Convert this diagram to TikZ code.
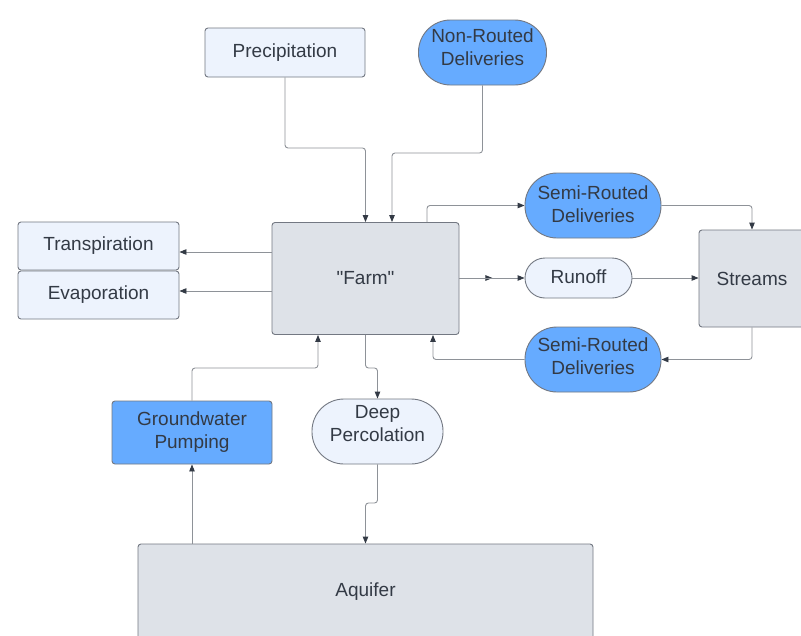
\documentclass[tikz,border=0pt]{standalone}
\usepackage{fontspec}
\setmainfont{Liberation Sans}[Ligatures=TeXOff]
\usetikzlibrary{arrows.meta}
\definecolor{lightf}{HTML}{EDF3FD}
\definecolor{grayf}{HTML}{DEE2E8}
\definecolor{bluef}{HTML}{66ABFF}
\definecolor{bord}{HTML}{737882}
\definecolor{linec}{HTML}{8E9298}
\definecolor{txt}{HTML}{333A45}
\tikzset{
  box/.style={draw=bord, line width=0.9pt, rounded corners=3pt, inner sep=0pt,
    text=txt, align=center, font=\fontsize{19}{23}\selectfont},
  lightbox/.style={box, fill=lightf},
  graybox/.style={box, fill=grayf},
  bluebox/.style={box, fill=bluef},
  txtlbl/.style={text=txt, align=center, font=\fontsize{19}{23}\selectfont, inner sep=0pt},
  conn/.style={draw=linec, line width=0.9pt, rounded corners=3pt,
    -{Triangle[length=7pt,width=5.5pt,fill=txt,color=txt]}},
}
\begin{document}
\begin{tikzpicture}[x=1pt,y=-1pt]
\useasboundingbox (0,0) rectangle (801,635);
\fill[white] (0,0) rectangle (801,635);
% nodes
\node[lightbox, minimum width=160pt, minimum height=49pt] (prec) at (285,52.5) {Precipitation};
\node[bluebox, rounded corners=32pt, minimum width=128pt, minimum height=65pt,
  label={[txtlbl, yshift=5pt]center:Non-Routed\\Deliveries}] (nr) at (482.5,52.5) {};
\node[graybox, minimum width=187pt, minimum height=112pt] (farm) at (365.5,278.5) {"Farm"};
\node[lightbox, minimum width=161pt, minimum height=48pt] (tr) at (98.5,246) {Transpiration};
\node[lightbox, minimum width=161pt, minimum height=48pt] (ev) at (98.5,295) {Evaporation};
\node[bluebox, rounded corners=32pt, minimum width=136pt, minimum height=65pt,
  label={[txtlbl, yshift=1.5pt]center:Semi-Routed\\Deliveries}] (st) at (593,205.5) {};
\node[lightbox, rounded corners=20pt, minimum width=107pt, minimum height=40pt,
  label={[txtlbl, yshift=1.5pt]center:Runoff}] (ro) at (578.5,278) {};
\node[graybox, minimum width=106pt, minimum height=97pt] (streams) at (752,278.5) {Streams};
\node[bluebox, rounded corners=32pt, minimum width=136pt, minimum height=65pt,
  label={[txtlbl, yshift=3.5pt]center:Semi-Routed\\Deliveries}] (sb) at (593,359.5) {};
\node[bluebox, minimum width=160pt, minimum height=63pt] (gw) at (192,432.5) {Groundwater\\Pumping};
\node[lightbox, rounded corners=32pt, minimum width=131pt, minimum height=65pt,
  label={[txtlbl, yshift=8pt]center:Deep\\Percolation}] (deep) at (377.5,431.5) {};
\node[graybox, minimum width=455pt, minimum height=96pt] (aq) at (365.5,592) {Aquifer};
% connectors
\draw[conn] (prec.south) -- (prec.south |- 0,148) -| (farm.north);
\draw[conn] (nr.south) -- (nr.south |- 0,153) -| ([xshift=26.5pt]farm.north);
\draw[conn] (farm.west |- 0,252) -- (tr.east |- 0,252);
\draw[conn] (farm.west |- 0,291) -- (ev.east |- 0,291);
\draw[conn] ([xshift=61.5pt]farm.north) |- (st.west);
\draw[conn] (farm.east |- ro.west) -- ++(33,0);
\draw[conn] (farm.east |- ro.west) -- (ro.west);
\draw[conn] (ro.east) -- (streams.west |- ro.east);
\draw[conn] (st.east) -| (streams.north);
\draw[conn] (streams.south) |- (sb.east);
\draw[conn] (sb.west) -| ([xshift=67.5pt]farm.south);
\draw[conn] (gw.north) -- (gw.north |- 0,368) -| ([xshift=-47.5pt]farm.south);
\draw[conn] (farm.south) -- (farm.south |- 0,368) -| (deep.north);
\draw[conn] (deep.south) -- (deep.south |- 0,503) -| (aq.north);
\draw[conn] (aq.north -| gw.south) -- (gw.south);
\end{tikzpicture}
\end{document}
